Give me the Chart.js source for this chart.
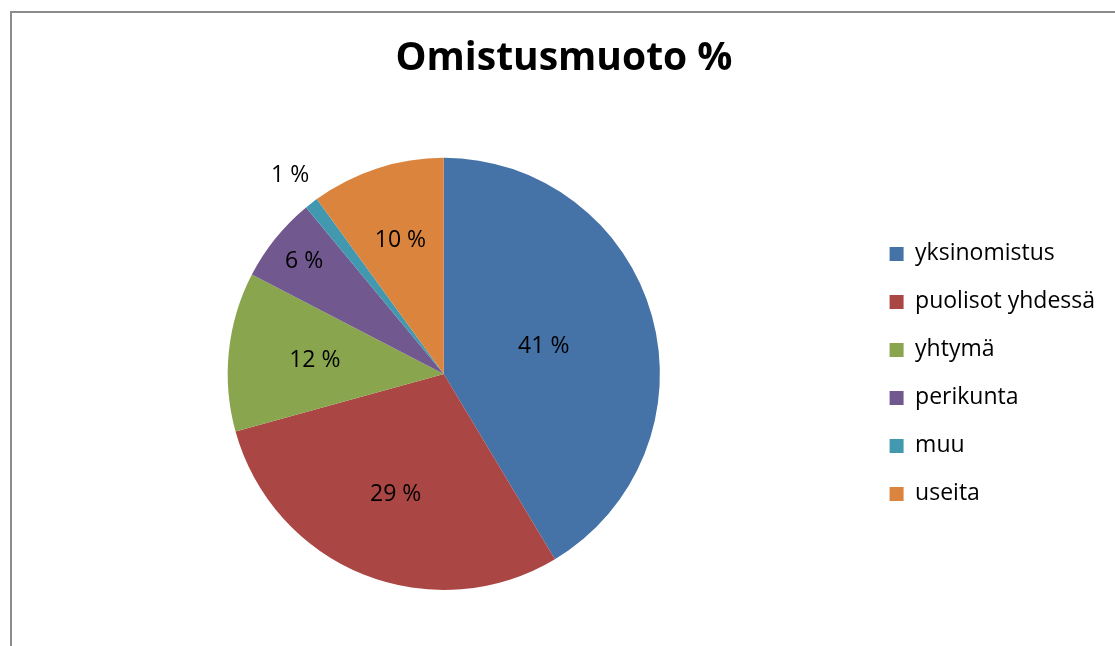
<!DOCTYPE html>
<html lang="fi">
<head>
    <meta charset="UTF-8">
    <title>Omistusmuoto %</title>
    <script src="https://cdn.jsdelivr.net/npm/chart.js"></script>
    <style>
        html, body {
            margin: 0;
            padding: 0;
            background: #ffffff;
            overflow: hidden;
        }
        .frame {
            position: absolute;
            left: 10px;
            top: 11px;
            width: 1200px;
            height: 700px;
            border-top: 2px solid #8c8c8c;
            border-left: 2px solid #8c8c8c;
        }
        .wrap {
            position: absolute;
            left: 0;
            top: 0;
            width: 1115px;
            height: 646px;
        }
    </style>
</head>
<body>
    <div class="frame"></div>
    <div class="wrap">
        <canvas id="pieChart"></canvas>
    </div>

    <script>
        const categories = ['yksinomistus', 'puolisot yhdessä', 'yhtymä', 'perikunta', 'muu', 'useita'];
        const shares = [41.4, 29.3, 11.9, 6.4, 1.0, 10.0];
        const colors = ['#4572A7', '#AA4643', '#89A54E', '#71588F', '#4198AF', '#DB843D'];

        // label distance from the centre, as a share of the radius
        const labelRadius = [0.48, 0.6, 0.6, 0.83, 1.16, 0.65];

        const sliceLabels = {
            id: 'sliceLabels',
            afterDatasetsDraw(chart) {
                const ctx = chart.ctx;
                const meta = chart.getDatasetMeta(0);
                ctx.save();
                ctx.font = '23px "Open Sans"';
                ctx.fillStyle = '#000000';
                ctx.textAlign = 'center';
                ctx.textBaseline = 'middle';
                meta.data.forEach((arc, i) => {
                    const p = arc.getProps(['x', 'y', 'startAngle', 'endAngle', 'outerRadius'], true);
                    const a = (p.startAngle + p.endAngle) / 2;
                    const r = p.outerRadius * labelRadius[i];
                    const x = p.x + Math.cos(a) * r;
                    const y = p.y + Math.sin(a) * r;
                    ctx.fillText(Math.round(shares[i]) + ' %', x, y);
                });
                ctx.restore();
            }
        };

        const ctx = document.getElementById('pieChart').getContext('2d');
        const pieChart = new Chart(ctx, {
            type: 'pie',
            data: {
                labels: categories,
                datasets: [{
                    data: shares,
                    backgroundColor: colors,
                    borderWidth: 0
                }]
            },
            options: {
                responsive: true,
                maintainAspectRatio: false,
                animation: false,
                layout: {
                    padding: { left: 23, right: 10, top: 0, bottom: 56 }
                },
                plugins: {
                    title: {
                        display: true,
                        text: 'Omistusmuoto %',
                        color: '#000000',
                        font: { family: '"Open Sans"', size: 39, weight: 'bold', lineHeight: 1.2 },
                        padding: { top: 35, bottom: 76 }
                    },
                    legend: {
                        position: 'right',
                        fullSize: false,
                        labels: {
                            color: '#000000',
                            font: { family: '"Open Sans"', size: 23 },
                            boxWidth: 14,
                            boxHeight: 14,
                            padding: 25
                        }
                    },
                    tooltip: { enabled: false }
                }
            },
            plugins: [sliceLabels]
        });
    </script>
</body>
</html>
